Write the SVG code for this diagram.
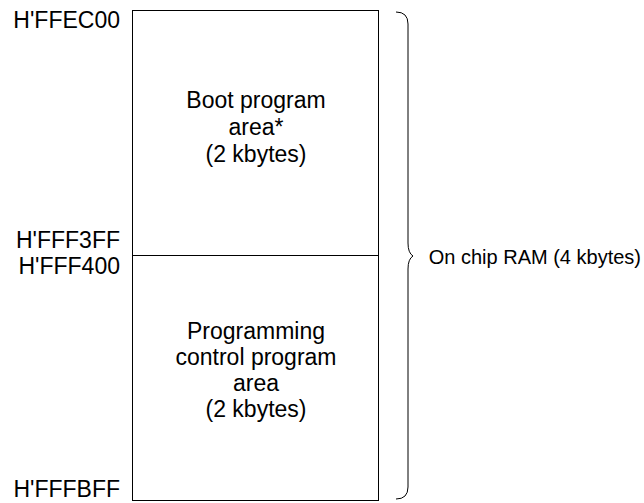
<svg xmlns="http://www.w3.org/2000/svg" width="644" height="503" viewBox="0 0 644 503">
<style>
text{font-family:"Liberation Sans",Arial,sans-serif;fill:#000}
.addr{font-size:23px;text-anchor:end}
.c{font-size:23px;text-anchor:middle}
.s{font-size:20px}
.ln{fill:none;stroke:#000;stroke-width:1}
</style>
<rect width="644" height="503" fill="#fff"/>
<g id="addresses">
<text class="addr" x="120" y="28">H'FFEC00</text>
<text class="addr" x="120" y="248">H'FFF3FF</text>
<text class="addr" x="120" y="274">H'FFF400</text>
<text class="addr" x="120" y="497">H'FFFBFF</text>
</g>
<g id="boot-area">
<rect class="ln" x="132.5" y="10.5" width="246" height="245"/>
<text class="c" x="256" y="108">Boot program</text>
<text class="c" x="256" y="135">area*</text>
<text class="c" x="256" y="162">(2 kbytes)</text>
</g>
<g id="programming-area">
<rect class="ln" x="132.5" y="255.5" width="246" height="245"/>
<text class="c" x="256" y="339">Programming</text>
<text class="c" x="256" y="365">control program</text>
<text class="c" x="256" y="391">area</text>
<text class="c" x="256" y="417">(2 kbytes)</text>
</g>
<g id="connectors">
<path class="ln" d="M396,12 Q408,12 408,24 L408,243 Q408,253 413,256 Q408,259 408,269 L408,487 Q408,499 396,499"/>
</g>
<g id="ram-label">
<text class="s" x="641" y="264" text-anchor="end">On chip RAM (4 kbytes)</text>
</g>
</svg>
